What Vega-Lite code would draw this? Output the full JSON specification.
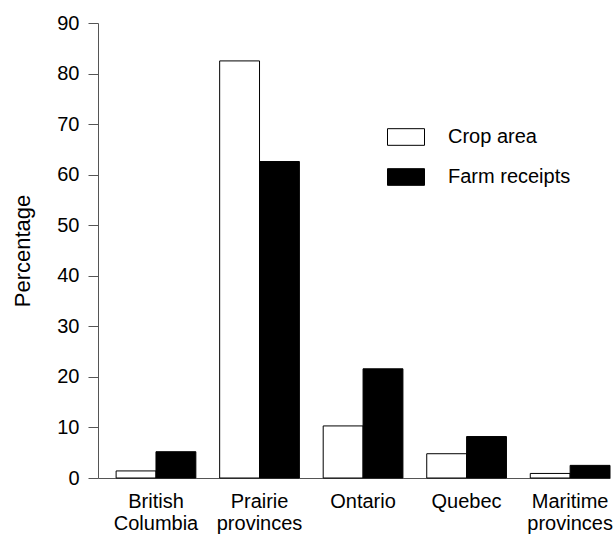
{
  "$schema": "https://vega.github.io/schema/vega-lite/v6.json",
  "width": 512,
  "height": 455,
  "autosize": {"type": "none"},
  "padding": {"left": 98, "top": 23, "right": 5, "bottom": 57},
  "background": "white",
  "config": {
    "font": "Liberation Sans",
    "view": {"stroke": null},
    "axis": {"grid": false, "domainColor": "#555", "tickColor": "#555", "labelColor": "black", "titleColor": "black", "labelFont": "Liberation Sans", "titleFont": "Liberation Sans"}
  },
  "data": {
    "values": [
      {"region": "British Columbia", "series": "Crop area", "pct": 1.4},
      {"region": "British Columbia", "series": "Farm receipts", "pct": 5.2},
      {"region": "Prairie provinces", "series": "Crop area", "pct": 82.5},
      {"region": "Prairie provinces", "series": "Farm receipts", "pct": 62.6},
      {"region": "Ontario", "series": "Crop area", "pct": 10.3},
      {"region": "Ontario", "series": "Farm receipts", "pct": 21.6},
      {"region": "Quebec", "series": "Crop area", "pct": 4.8},
      {"region": "Quebec", "series": "Farm receipts", "pct": 8.2},
      {"region": "Maritime provinces", "series": "Crop area", "pct": 0.9},
      {"region": "Maritime provinces", "series": "Farm receipts", "pct": 2.5}
    ]
  },
  "mark": {"type": "bar", "stroke": "black", "strokeWidth": 1},
  "encoding": {
    "x": {
      "field": "region", "type": "nominal", "sort": null,
      "scale": {"paddingInner": 0.23, "paddingOuter": 0.0875, "align": 1},
      "axis": {"title": null, "ticks": false, "labelAngle": 0, "labelFontSize": 20, "labelPadding": 13, "labelLineHeight": 22, "labelExpr": "split(datum.label, ' ')", "domainWidth": 1}
    },
    "xOffset": {"field": "series", "type": "nominal", "scale": {"paddingInner": 0, "paddingOuter": 0}},
    "y": {
      "field": "pct", "type": "quantitative",
      "scale": {"domain": [0, 90], "nice": false},
      "axis": {"title": "Percentage", "values": [0,10,20,30,40,50,60,70,80,90], "tickSize": 10, "labelPadding": 9, "labelFontSize": 20, "titleFontSize": 22, "titleFontWeight": "normal", "titlePadding": 22}
    },
    "fill": {
      "field": "series", "type": "nominal",
      "scale": {"domain": ["Crop area", "Farm receipts"], "range": ["white", "black"]},
      "legend": {
        "title": null, "orient": "none", "legendX": 289, "legendY": 95, "padding": 0,
        "symbolType": "M-1,-0.45L1,-0.45L1,0.45L-1,0.45Z", "symbolSize": 1369,
        "symbolStrokeColor": "black", "symbolStrokeWidth": 1,
        "labelFontSize": 20, "labelOffset": 23, "rowPadding": 10, "labelColor": "black"
      }
    }
  }
}
